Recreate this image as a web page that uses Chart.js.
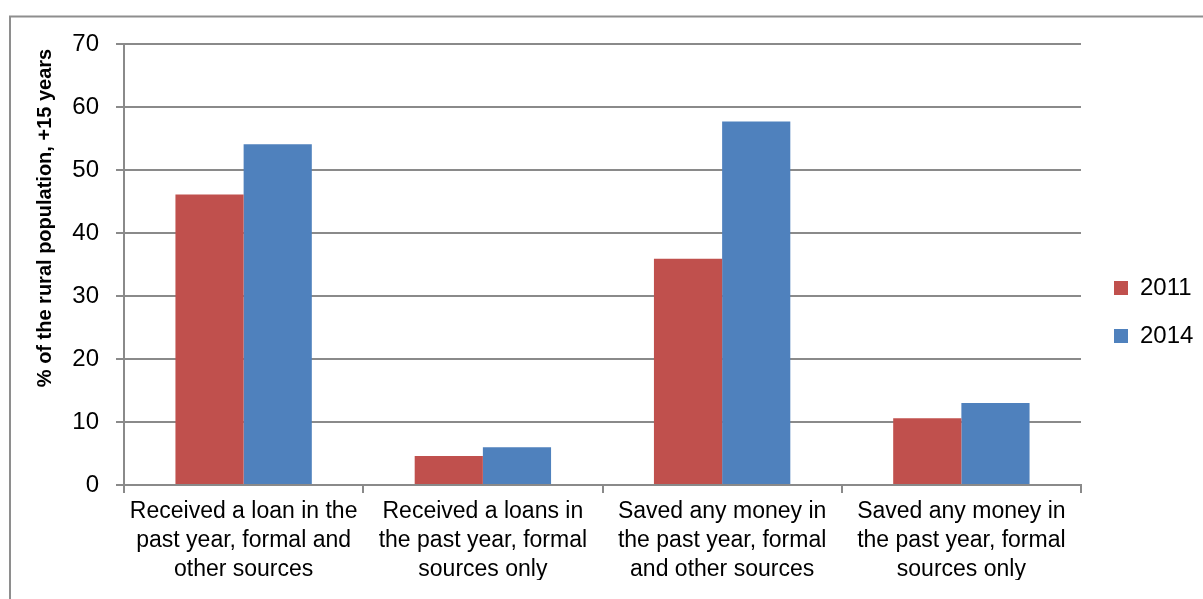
<!DOCTYPE html>
<html>
<head>
<meta charset="utf-8">
<script src="https://cdn.jsdelivr.net/npm/chart.js@4.4.1/dist/chart.umd.min.js"></script>
<style>
  html, body { margin: 0; padding: 0; background: #ffffff; }
  #wrap { width: 1203px; height: 599px; }
</style>
</head>
<body>
<div id="wrap"><canvas id="chart" width="1203" height="599"></canvas></div>
<script>
// Category labels (one line per array entry)
const categories = [
  ["Received a loan in the", "past year, formal and", "other sources"],
  ["Received a loans in", "the past year, formal", "sources only"],
  ["Saved any money in", "the past year, formal", "and other sources"],
  ["Saved any money in", "the past year, formal", "sources only"]
];
const seriesNames = ["2011", "2014"];
const values2011 = [46.1, 4.6, 35.9, 10.6];
const values2014 = [54.1, 6.0, 57.7, 13.0];
const yTicks = [0, 10, 20, 30, 40, 50, 60, 70];
const yTitle = "% of the rural population, +15 years";

const FONT = '"Liberation Sans", Arial, sans-serif';
const GRID = '#8a8a8a';

// Outer frame and rotated y-axis title
const frameAndTitle = {
  id: 'frameAndTitle',
  beforeDraw(chart) {
    const ctx = chart.ctx;
    ctx.save();
    ctx.fillStyle = '#ffffff';
    ctx.fillRect(0, 0, chart.width, chart.height);
    ctx.strokeStyle = '#8e8e8e';
    ctx.lineWidth = 2;
    ctx.strokeRect(10, 16.5, chart.width + 20, chart.height + 20);
    ctx.restore();
  },
  afterDraw(chart) {
    const ctx = chart.ctx;
    ctx.save();
    ctx.translate(45, 218);
    ctx.rotate(-Math.PI / 2);
    ctx.font = 'bold 20px ' + FONT;
    ctx.fillStyle = '#000000';
    ctx.textAlign = 'center';
    ctx.textBaseline = 'middle';
    ctx.fillText(yTitle, 0, 0);
    ctx.restore();
  }
};

// Move the legend a little further away from the plot
const legendNudge = {
  id: 'legendNudge',
  afterLayout(chart) {
    const lg = chart.legend;
    if (lg) { lg.left += 9; lg.right += 9; }
  }
};

new Chart(document.getElementById('chart'), {
  type: 'bar',
  data: {
    labels: categories,
    datasets: [
      { label: seriesNames[0], data: values2011, backgroundColor: '#C0504D' },
      { label: seriesNames[1], data: values2014, backgroundColor: '#4F81BD' }
    ]
  },
  options: {
    responsive: false,
    animation: false,
    devicePixelRatio: 1,
    layout: { padding: { left: 0, top: 44, right: 12, bottom: 19 } },
    datasets: { bar: { categoryPercentage: 0.57, barPercentage: 1.0 } },
    plugins: {
      tooltip: { enabled: false },
      legend: {
        position: 'right',
        align: 'center',
        maxWidth: 110,
        labels: {
          boxWidth: 14,
          boxHeight: 14,
          padding: 24,
          color: '#000000',
          font: { family: FONT, size: 24 }
        }
      }
    },
    scales: {
      x: {
        grid: {
          display: true,
          drawOnChartArea: false,
          drawTicks: true,
          tickLength: 8,
          offset: true,
          color: GRID,
          lineWidth: 2
        },
        border: { display: true, color: GRID, width: 2 },
        ticks: {
          color: '#000000',
          font: { family: FONT, size: 23, lineHeight: 29 / 23 },
          padding: 4,
          maxRotation: 0,
          autoSkip: false
        },
        afterFit(scale) { scale.height = 95; }
      },
      y: {
        min: 0,
        max: 70,
        afterBuildTicks(scale) { scale.ticks = yTicks.map(v => ({ value: v })); },
        grid: {
          color: GRID,
          lineWidth: 2,
          drawTicks: true,
          tickLength: 8
        },
        border: { display: true, color: GRID, width: 2 },
        ticks: {
          color: '#000000',
          font: { family: FONT, size: 24 },
          padding: 17
        },
        afterFit(scale) { scale.width = 124; }
      }
    }
  },
  plugins: [frameAndTitle, legendNudge]
});
</script>
</body>
</html>
